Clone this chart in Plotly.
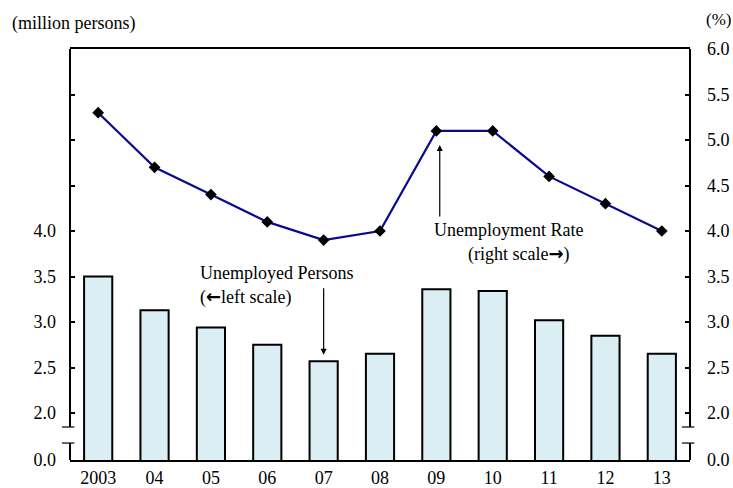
import plotly.graph_objects as go

years = ["2003", "04", "05", "06", "07", "08", "09", "10", "11", "12", "13"]
unemployed_persons = [3.50, 3.13, 2.94, 2.75, 2.57, 2.65, 3.36, 3.34, 3.02, 2.85, 2.65]
unemployment_rate = [5.3, 4.7, 4.4, 4.1, 3.9, 4.0, 5.1, 5.1, 4.6, 4.3, 4.0]

# axis break: value drawn at the bottom of the axis stands for 0.0
AXIS_ZERO = 1.4835
left_tickvals = [AXIS_ZERO, 2.0, 2.5, 3.0, 3.5, 4.0, 4.5, 5.0, 5.5]
left_ticktext = ["0.0", "2.0", "2.5", "3.0", "3.5", "4.0", "", "", ""]
right_tickvals = [AXIS_ZERO, 2.0, 2.5, 3.0, 3.5, 4.0, 4.5, 5.0, 5.5, 6.0]
right_ticktext = ["0.0", "2.0", "2.5", "3.0", "3.5", "4.0", "4.5", "5.0", "5.5", "6.0"]

FONT = "Liberation Serif"
ARROW_STYLE = "font-family:'DejaVu Sans';font-weight:bold"

fig = go.Figure()
fig.add_trace(go.Bar(
    x=years, y=unemployed_persons, width=0.5,
    marker=dict(color="#DAEEF3", line=dict(color="black", width=2)),
    yaxis="y", showlegend=False,
))
fig.add_trace(go.Scatter(
    x=years, y=unemployment_rate, mode="lines+markers",
    line=dict(color="#0A0A8C", width=2.2),
    marker=dict(symbol="diamond", size=9, color="black"),
    yaxis="y2", showlegend=False,
))

fig.update_layout(
    width=733, height=488,
    margin=dict(l=70, r=43, t=49, b=28, autoexpand=False),
    paper_bgcolor="white", plot_bgcolor="white",
    font=dict(family=FONT, size=18, color="black"),
    bargap=0.5,
    xaxis=dict(type="category", range=[-0.5, 10.5], showline=True, mirror=True,
               linecolor="black", linewidth=2, ticks="", showgrid=False,
               automargin=False, tickfont=dict(size=18)),
    yaxis=dict(range=[AXIS_ZERO, 6.0], tickvals=left_tickvals, ticktext=left_ticktext,
               ticks="inside", ticklen=5, tickwidth=2, tickcolor="black",
               showgrid=False, zeroline=False, showline=False, automargin=False,
               ticklabelstandoff=13),
    yaxis2=dict(range=[AXIS_ZERO, 6.0], tickvals=right_tickvals, ticktext=right_ticktext,
                overlaying="y", side="right", automargin=False,
                ticks="inside", ticklen=5, tickwidth=2, tickcolor="black",
                showgrid=False, zeroline=False, showline=False,
                ticklabelstandoff=16),
)

# axis lines with break
b_hi, b_lo = 1.846, 1.670
shapes = []
for xp in (0, 1):
    shapes.append(dict(type="line", xref="paper", yref="y", x0=xp, x1=xp, y0=b_hi, y1=6.0,
                       line=dict(color="black", width=2)))
    shapes.append(dict(type="line", xref="paper", yref="y", x0=xp, x1=xp, y0=AXIS_ZERO, y1=b_lo,
                       line=dict(color="black", width=2)))
    for yb in (b_hi, b_lo):
        shapes.append(dict(type="line", xref="paper", yref="y", x0=xp - 0.013, x1=xp + 0.007,
                           y0=yb, y1=yb, line=dict(color="black", width=1.2)))
fig.update_layout(shapes=shapes)

ann = []
ann.append(dict(xref="paper", yref="paper", x=(10 - 70) / 620, y=1.0 + 26 / 411, xanchor="left", yanchor="middle",
                text="(million persons)", showarrow=False))
ann.append(dict(xref="paper", yref="paper", x=1.0 + 14 / 620, y=1.0 + 30 / 411, xanchor="left", yanchor="middle",
                text="(%)", showarrow=False, font=dict(size=17)))
ann.append(dict(xref="paper", yref="paper", x=(198 - 70) / 620, y=(460 - 273) / 411, xanchor="left",
                yanchor="middle", text="Unemployed Persons", showarrow=False))
ann.append(dict(xref="paper", yref="paper", x=(198 - 70) / 620, y=(460 - 297) / 411, xanchor="left",
                yanchor="middle", text=f"(<span style=\"{ARROW_STYLE}\">←</span>left scale)", showarrow=False))
ann.append(dict(xref="paper", yref="paper", x=(432 - 70) / 620, y=(460 - 230) / 411, xanchor="left",
                yanchor="middle", text="Unemployment Rate", showarrow=False))
ann.append(dict(xref="paper", yref="paper", x=(466 - 70) / 620, y=(460 - 254) / 411, xanchor="left",
                yanchor="middle", text=f"(right scale<span style=\"{ARROW_STYLE}\">→</span>)", showarrow=False))
# arrows
ann.append(dict(x=4, y=2.64, xref="x", yref="y", text="", showarrow=True,
                ax=0, ay=-68, arrowhead=2, arrowsize=1, arrowwidth=1.2, arrowcolor="black"))
ann.append(dict(x=6.06, y=4.945, xref="x", yref="y", text="", showarrow=True,
                ax=0, ay=73, arrowhead=2, arrowsize=1, arrowwidth=1.2, arrowcolor="black"))
fig.update_layout(annotations=ann)

fig.write_html("out.html", config={"displayModeBar": False},
               post_script="document.body.style.margin='0';")
